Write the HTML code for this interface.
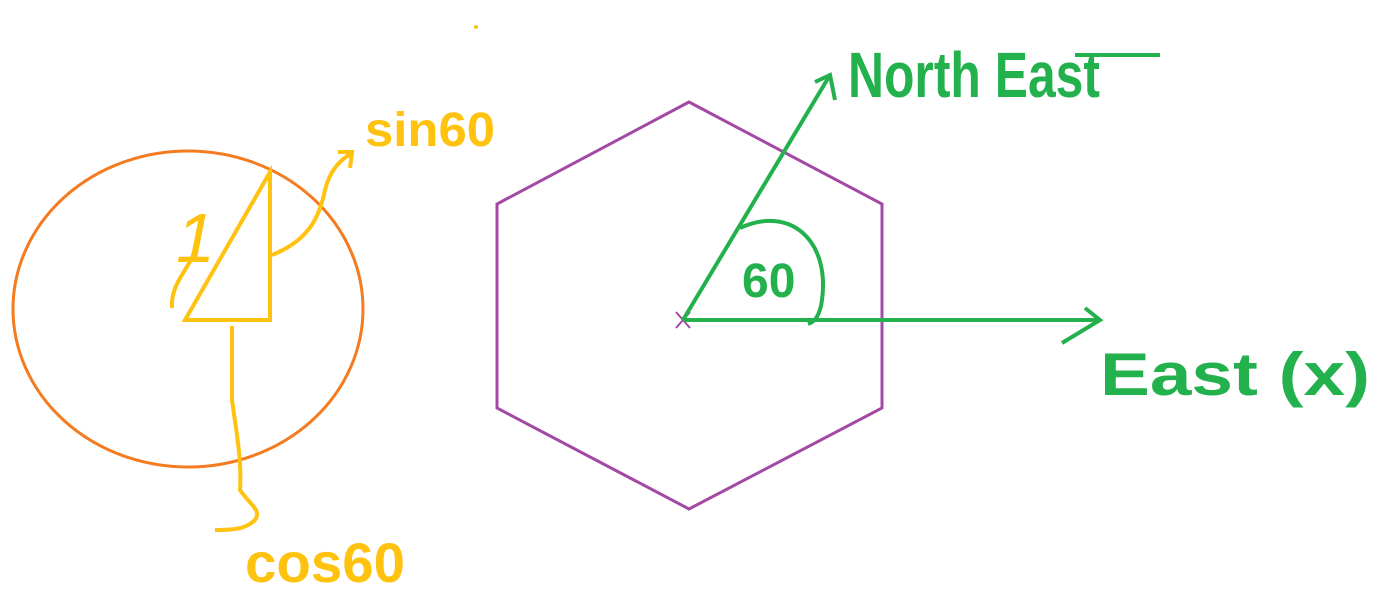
<!DOCTYPE html>
<html>
<head>
<meta charset="utf-8">
<style>
  html,body{margin:0;padding:0;background:#fff;}
  svg{display:block;}
  text{font-family:"Liberation Sans",sans-serif;}
</style>
</head>
<body>
<svg width="1386" height="610" viewBox="0 0 1386 610">
  <ellipse cx="188" cy="309" rx="175" ry="158" fill="none" stroke="#f47b20" stroke-width="3"/>
  <g stroke="#ffc20e" stroke-width="4" fill="none">
    <polygon points="185,320 270,320 270,172"/>
  </g>
  <text x="176" y="262" font-size="70" fill="#ffc20e" font-style="italic">1</text>
  <path d="M172,308 C170,280 195,265 195,245" stroke="#ffc20e" stroke-width="4" fill="none"/>
  <path d="M272,255 C310,240 320,215 325,190 C330,170 340,160 352,153" stroke="#ffc20e" stroke-width="4" fill="none"/>
  <path d="M338,152 L352,152 L350,168" stroke="#ffc20e" stroke-width="4" fill="none"/>
  <text x="365" y="146" font-size="48" font-weight="bold" textLength="130" lengthAdjust="spacingAndGlyphs" fill="#ffc20e">sin60</text>
  <path d="M232,326 L232,400 C236,430 242,460 240,490 C250,505 262,510 255,520 C245,530 230,530 215,530" stroke="#ffc20e" stroke-width="4" fill="none"/>
  <text x="245" y="582" font-size="56" font-weight="bold" textLength="160" lengthAdjust="spacingAndGlyphs" fill="#ffc20e">cos60</text>
  <polygon points="689,102 882,204 882,408 689,509 497,408 497,204" fill="none" stroke="#a349a4" stroke-width="3"/>
  <path d="M676,312 L690,328 M690,312 L676,328" stroke="#a349a4" stroke-width="2"/>
  <g stroke="#22b14c" stroke-width="4" fill="none">
    <line x1="683" y1="320" x2="830" y2="75"/>
    <path d="M815,82 L830,75 L835,100"/>
    <line x1="683" y1="320" x2="1100" y2="320"/>
    <path d="M1085,308 L1100,320 L1062,343"/>
    <path d="M740,228 C790,205 830,240 822,300 C820,315 815,322 808,324"/>
  </g>
  <text x="742" y="297" font-size="48" font-weight="bold" fill="#22b14c">60</text>
  <text x="848" y="97" font-size="64" font-weight="bold" textLength="252" lengthAdjust="spacingAndGlyphs" fill="#22b14c">North East</text>
  <line x1="1075" y1="55" x2="1160" y2="55" stroke="#22b14c" stroke-width="4"/>
  <text x="1100" y="395" font-size="60" font-weight="bold" textLength="270" lengthAdjust="spacingAndGlyphs" fill="#22b14c">East (x)</text>
  <circle cx="476" cy="27" r="2" fill="#ffc20e"/>
</svg>
</body>
</html>
